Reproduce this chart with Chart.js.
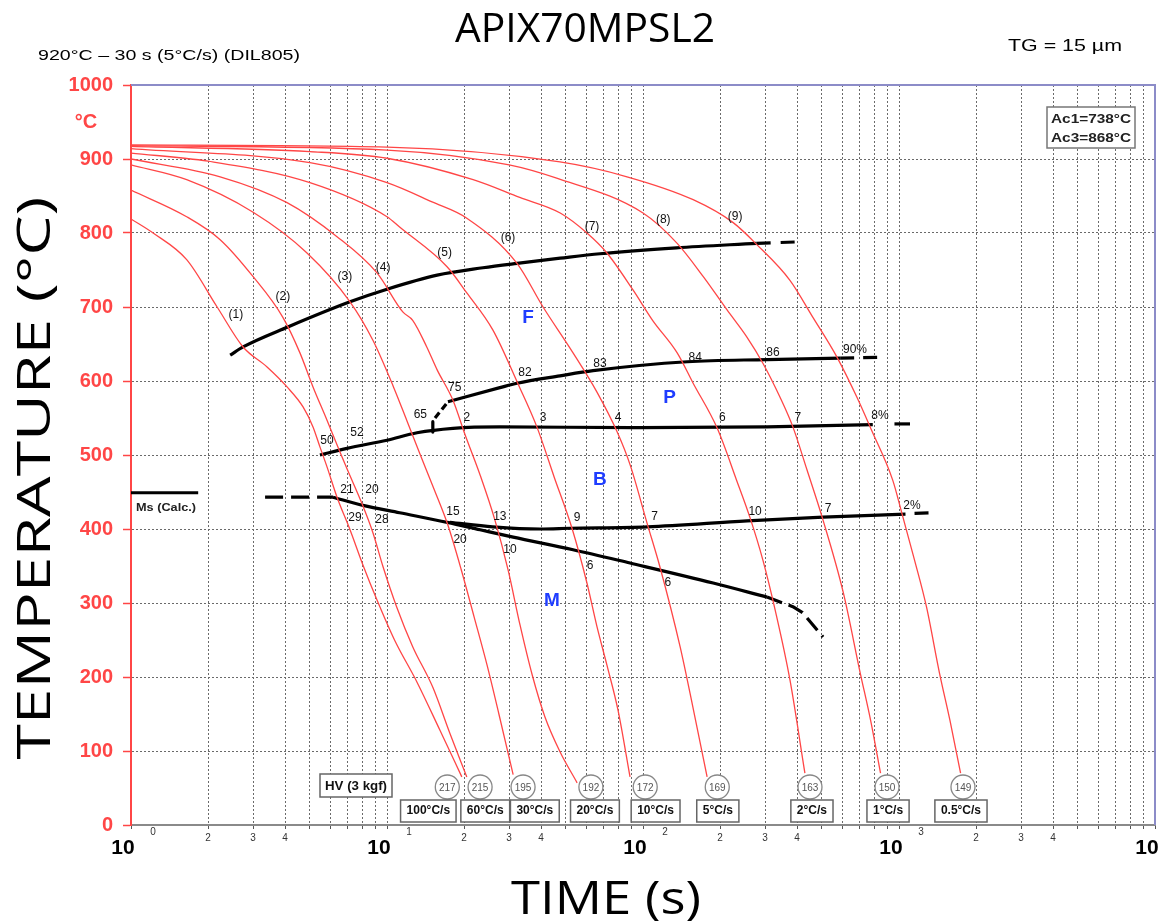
<!DOCTYPE html>
<html><head><meta charset="utf-8">
<script src="https://cdn.jsdelivr.net/npm/chart.js@4.4.1/dist/chart.umd.min.js"></script>
<style>html,body{margin:0;padding:0;background:#fff;}</style>
</head><body>
<canvas id="c" width="1168" height="924" style="display:block;width:1168px;height:924px"></canvas>
<script>
// ---------- DATA (time s, temperature °C) ----------
const curve1 = [[1.0,819],[1.22,800],[1.65,764],[2.17,700],[2.74,646],[3.40,619],[4.07,592],[4.70,565],[5.14,538],[5.47,511],[5.83,484],[6.38,443],[7.17,399],[8.06,351],[9.14,304],[10.7,250],[13.1,193],[16.1,128],[19.6,65]];
const curve2 = [[1.0,858],[1.65,822],[2.23,791],[3.0,741],[3.92,686],[4.57,638],[5.14,592],[5.83,547],[6.55,504],[7.17,472],[7.99,434],[8.81,395],[9.65,349],[10.9,295],[12.6,241],[15.1,186],[17.6,124],[20.5,65]];
const curve3 = [[1.0,892],[1.65,872],[3.0,828],[4.87,773],[7.17,707],[8.81,655],[10.6,592],[11.97,546],[13.5,500],[15.3,453],[17.3,405],[19.5,345],[21.9,281],[24.6,216],[27.4,149],[31.1,68]];
const curve4 = [[1.0,900],[2.23,876],[4.07,841],[6.38,795],[9.14,746],[11.55,693],[12.6,682],[14.3,646],[15.7,615],[18.1,574],[20.2,527],[23.1,473],[26.4,412],[29.7,345],[33.1,270],[36.9,203],[41.4,146],[47.4,99],[55.3,57]];
const curve5 = [[1.0,908],[2.0,897],[5.0,868],[10.0,822],[11.2,808],[17.2,754],[20.5,719],[25.9,669],[32.5,596],[38.5,538],[45.0,470],[52.8,401],[60.4,327],[66.1,268],[72.3,216],[79.9,155],[89.0,65]];
const curve6 = [[1.0,914],[5.0,895],[10.0,868],[15.0,842],[20.5,820],[32.2,759],[40.7,700],[53.3,638],[66.1,585],[79.3,531],[89.2,486],[103.7,408],[116.4,349],[139.6,241],[156.7,159],[178,65]];
const curve7 = [[1.0,917],[5.0,910],[10.0,901],[21.7,872],[33.0,848],[47.5,827],[60.4,800],[72.3,773],[91.4,723],[109,682],[136,638],[157,597],[195,536],[232,466],[262,415],[294,358],[328,291],[375,196],[429,70]];
const curve8 = [[1.0,918],[10.0,912],[30.0,892],[46.0,874],[100,827],[136,786],[172,741],[213,696],[255,659],[294,624],[343,578],[385,538],[437,480],[505,412],[606,314],[706,205],[774,142],[847,70]];
const curve9 = [[1.0,919],[10.0,916],[47.4,896],[86.6,876],[157,845],[225,814],[279,784],[375,736],[461,686],[573,632],[685,578],[780,534],[945,466],[1025,422],[1150,358],[1280,295],[1440,205],[1580,142],[1740,70]];

const ferriteStart     = [[2.44,635],[2.74,646],[4.10,673],[7.17,707],[10.0,724],[15.7,743],[23.7,753],[32.2,759],[47.5,766],[67.9,772],[135,780],[278,786]];
const ferriteStartDash = [[278,786],[401,788]];
const pearliteStart    = [[17.3,572],[27.6,591],[32.2,597],[47.4,607],[63.8,614],[149,626],[305,629],[589,631]];
const pearliteDash     = [[589,631],[870,632]];
const pearliteLead     = [[15.4,550],[17.3,572]];
const pearliteTick     = [[15.1,545],[15.1,531]];
const bainiteStart     = [[5.47,500],[6.98,509],[10.0,520],[13.1,530],[18.1,536],[27.6,538],[91.4,537],[305,538],[790,541]];
const bainiteStartDash = [[960,542],[1104,542]];
const bainiteFinish    = [[17.6,409],[25.9,403],[39.6,400],[51.9,401],[104,403],[255,411],[505,416],[1060,420]];
const bainiteFinishDash= [[1150,421],[1381,422]];
const msLeftDash       = [[3.34,443],[6.15,443]];
const msLine           = [[6.15,443],[8.06,432],[11.2,422],[17.2,409],[23.1,399],[31.1,389],[53.3,372],[89.0,354],[188,327],[305,308]];
const msRightDash      = [[305,308],[385,295],[420,287],[505,254]];
const msCalc           = [[1.0,449],[1.83,449]];

// labels
const curveTags   = ['(1)','(2)','(3)','(4)','(5)','(6)','(7)','(8)','(9)'];
const curveTagAt  = [[2.57,690],[3.92,714],[6.85,741],[9.65,753],[16.8,773],[29.7,793],[63.2,808],[120,818],[229,822]];
const phaseTags   = ['F','P','B','M'];
const phaseTagAt  = [[35.6,686],[127,577],[67.9,466],[44.1,303]];
const pctTags     = ['75','82','83','84','86','90%','50','52','65','2','3','4','6','7','8%','13','9','7','10','7','2%','21','20','29','28','15','20','10','6','6'];
const pctTagAt    = [[18.4,591],[34.6,611],[67.9,624],[160,631],[322,638],[673,642],
                     [5.83,520],[7.63,530],[13.5,554],[20.5,550],[40.7,550],[79.9,550],[204,550],[403,551],[843,553],
                     [27.6,416],[55.3,415],[111,416],[274,423],[528,428],[1124,432],
                     [6.98,453],[8.74,453],[7.5,415],[9.55,412],[18.1,423],[19.3,385],[30.2,372],[62.1,351],[125,328]];
const hardness    = ['217','215','195','192','172','169','163','150','149'];
const hardnessAt  = [17.2,23.1,34.0,62.6,102,195,449,898,1778];
const rateTags    = ['100°C/s','60°C/s','30°C/s','20°C/s','10°C/s','5°C/s','2°C/s','1°C/s','0.5°C/s'];
const rateAt      = [14.5,24.2,37.8,64.9,112,196,457,906,1746];

// axis ticks
const decadeValues = [1,10,100,1000,10000];
const decadeExponents = ['0','1','2','3','4'];
const minorDigits = [2,3,4,5,6,7,8,9];
const labelledDigits = ['2','3','4'];
const yTicks = [0,100,200,300,400,500,600,700,800,900,1000];

// ---------- CHART ----------
const RED = '#ff4646';
const toXY = a => a.map(p => ({x:p[0], y:p[1]}));
function ds(pts, color, width, dash, smooth){
  return {data: toXY(pts), showLine:true, borderColor:color, borderWidth:width, borderDash:dash||[],
    pointRadius:0, pointHoverRadius:0, fill:false, borderCapStyle:'butt', borderJoinStyle:'round',
    cubicInterpolationMode: smooth ? 'monotone' : 'default', tension: 0};
}
const datasets = [
  ...[curve1,curve2,curve3,curve4,curve5,curve6,curve7,curve8,curve9].map(c => ds(c, RED, 1.3, null, true)),
  ds(ferriteStart,'#000',3.2,null,true),
  ds(ferriteStartDash,'#000',3.2,[14,10],false),
  ds(pearliteStart,'#000',3.2,null,true),
  ds(pearliteDash,'#000',3.2,[14,9],false),
  ds(pearliteLead,'#000',3.2,[7,4],false),
  ds(pearliteTick,'#000',3.2,null,false),
  ds(bainiteStart,'#000',3.2,null,true),
  ds(bainiteStartDash,'#000',3.2,null,false),
  ds(bainiteFinish,'#000',3.2,null,true),
  ds(bainiteFinishDash,'#000',3.2,[14,8],false),
  ds(msLeftDash,'#000',3.2,[18,8],false),
  ds(msLine,'#000',3.2,null,true),
  ds(msRightDash,'#000',3.2,[16,7],false),
  ds(msCalc,'#000',3.2,null,false)
];

const gridTicks = [];
decadeValues.forEach((d,i) => { gridTicks.push(d); if (i < decadeValues.length-1) minorDigits.forEach(m => gridTicks.push(m*d)); });

function fitText(ctx, text, cx, by, w, font, color, rot){
  ctx.save(); ctx.font = font; ctx.fillStyle = color; ctx.textAlign = 'center'; ctx.textBaseline = 'alphabetic';
  ctx.translate(cx, by); if (rot) ctx.rotate(rot);
  const m = ctx.measureText(text).width; ctx.scale(w/m, 1); ctx.fillText(text, 0, 0); ctx.restore();
}

const decor = {
  id:'decor',
  afterDraw(chart){
    const ctx = chart.ctx, xs = chart.scales.x, ys = chart.scales.y, a = chart.chartArea;
    const px = t => xs.getPixelForValue(t), py = T => ys.getPixelForValue(T);
    ctx.save();
    ctx.strokeStyle = '#8c8cc8'; ctx.lineWidth = 2;
    ctx.beginPath(); ctx.moveTo(a.left, a.top); ctx.lineTo(a.right, a.top); ctx.lineTo(a.right, a.bottom); ctx.stroke();
    ctx.fillStyle = '#000'; ctx.textAlign = 'center'; ctx.textBaseline = 'middle';
    decadeValues.forEach((d,i) => {
      const x = px(d);
      ctx.font = 'bold 21px "Liberation Sans"'; ctx.fillStyle = '#000'; ctx.fillText('10', x-8, 848);
      ctx.font = '10px "Liberation Sans"'; ctx.fillStyle = '#333'; ctx.fillText(decadeExponents[i], x+22, 832);
    });
    fitText(ctx, 'APIX70MPSL2', 585, 42, 260, '40px "Open Sans"', '#000');
    fitText(ctx, 'TIME (s)', 606, 914, 190, '46px "Open Sans"', '#000');
    fitText(ctx, 'TEMPERATURE (°C)', 50, 478, 563, '46px "Open Sans"', '#000', -Math.PI/2);
    fitText(ctx, '920°C – 30 s (5°C/s) (DIL805)', 169, 60, 262, '15px "Liberation Sans"', '#000');
    fitText(ctx, 'TG = 15 µm', 1065, 51, 114, '16px "Liberation Sans"', '#000');
    ctx.fillStyle = RED; ctx.font = 'bold 20px "Liberation Sans"'; ctx.textAlign='center'; ctx.textBaseline='middle';
    ctx.fillText('°C', 86, 122);
    ctx.fillStyle = '#fff'; ctx.fillRect(1047,107,88,41);
    ctx.strokeStyle = '#777'; ctx.lineWidth = 1.5; ctx.strokeRect(1047,107,88,41);
    fitText(ctx, 'Ac1=738°C', 1091, 123, 80, 'bold 12px "Liberation Sans"', '#222');
    fitText(ctx, 'Ac3=868°C', 1091, 142, 80, 'bold 12px "Liberation Sans"', '#222');
    fitText(ctx, 'Ms (Calc.)', 166, 511, 60, 'bold 10px "Liberation Sans"', '#222');
    ctx.textAlign='center'; ctx.textBaseline='middle';
    ctx.font = '12px "Liberation Sans"'; ctx.fillStyle = '#111';
    curveTags.forEach((s,i) => ctx.fillText(s, px(curveTagAt[i][0]), py(curveTagAt[i][1])));
    pctTags.forEach((s,i) => ctx.fillText(s, px(pctTagAt[i][0]), py(pctTagAt[i][1])));
    ctx.font = 'bold 19px "Liberation Sans"'; ctx.fillStyle = '#1f3dff';
    phaseTags.forEach((s,i) => ctx.fillText(s, px(phaseTagAt[i][0]), py(phaseTagAt[i][1])));
    ctx.fillStyle='#fff'; ctx.fillRect(320,774,72,23); ctx.strokeStyle='#666'; ctx.lineWidth=1.5; ctx.strokeRect(320,774,72,23);
    fitText(ctx, 'HV (3 kgf)', 356, 790, 62, 'bold 12px "Liberation Sans"', '#111');
    hardness.forEach((s,i) => {
      const x = px(hardnessAt[i]);
      ctx.beginPath(); ctx.arc(x, 787, 12, 0, Math.PI*2); ctx.fillStyle='#fff'; ctx.fill();
      ctx.strokeStyle='#888'; ctx.lineWidth=1.3; ctx.stroke();
      ctx.fillStyle='#555'; ctx.font='10px "Liberation Sans"'; ctx.textAlign='center'; ctx.textBaseline='middle';
      ctx.fillText(s, x, 788);
    });
    rateTags.forEach((s,i) => {
      const x = px(rateAt[i]);
      ctx.font = 'bold 12px "Liberation Sans"';
      const w = ctx.measureText(s).width + 12;
      ctx.fillStyle='#fff'; ctx.fillRect(x-w/2, 800, w, 22);
      ctx.strokeStyle='#666'; ctx.lineWidth=1.5; ctx.strokeRect(x-w/2, 800, w, 22);
      ctx.fillStyle='#111'; ctx.textAlign='center'; ctx.textBaseline='middle'; ctx.fillText(s, x, 811);
    });
    ctx.restore();
  }
};

new Chart(document.getElementById('c'), {
  type:'scatter',
  data:{datasets},
  plugins:[decor],
  options:{
    responsive:false, animation:false, devicePixelRatio:1,
    layout:{padding:{left:0, right:13, top:85, bottom:0}},
    plugins:{legend:{display:false}, tooltip:{enabled:false}, title:{display:false}},
    events:[],
    scales:{
      x:{type:'logarithmic', min:1, max:10000,
        afterBuildTicks: s => { s.ticks = gridTicks.map(v => ({value:v})); },
        afterFit: s => { s.height = 99; },
        ticks:{autoSkip:false, maxRotation:0, minRotation:0, padding:3, color:'#333', font:{size:10, family:'Liberation Sans'},
          callback: v => { const e = Math.floor(Math.log10(v)+1e-9); const m = Math.round(v/Math.pow(10,e)); return labelledDigits.includes(String(m)) ? String(m) : ''; }},
        grid:{color:'#6a6a6a', lineWidth:1, tickLength:4, tickColor:'#555', tickBorderDash:[]},
        border:{display:true, color:'#8a8a8a', width:2, dash:[2,2]}
      },
      y:{type:'linear', min:0, max:1000,
        afterBuildTicks: s => { s.ticks = yTicks.map(v => ({value:v})); },
        afterFit: s => { s.width = 131; },
        ticks:{padding:10, color:RED, font:{size:20, weight:'bold', family:'Liberation Sans'}, callback: v => String(v)},
        grid:{color:'#6a6a6a', lineWidth:1, tickLength:8, tickColor:RED, tickWidth:1.5, tickBorderDash:[]},
        border:{display:true, color:RED, width:2, dash:[2,2]}
      }
    }
  }
});
</script>
</body></html>
